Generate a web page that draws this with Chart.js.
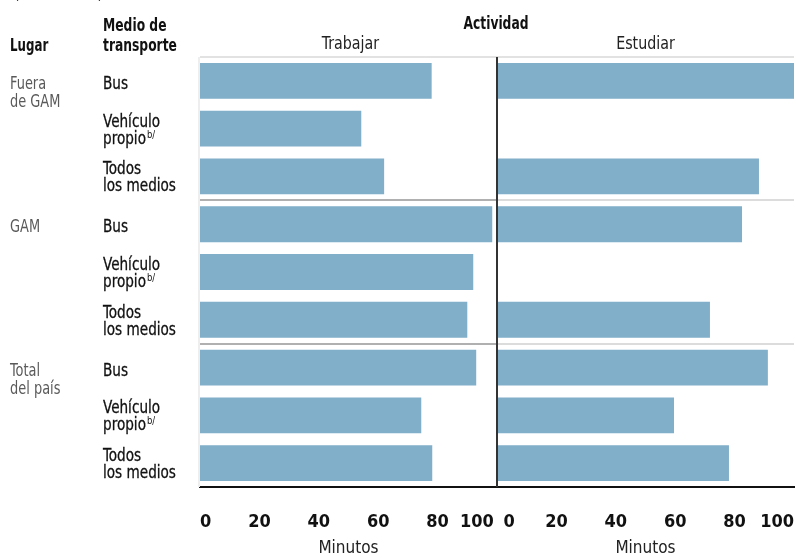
<!DOCTYPE html>
<html lang="es">
<head>
<meta charset="utf-8">
<title>Tiempo de viaje por actividad</title>
<script src="https://cdn.jsdelivr.net/npm/chart.js@4.4.1/dist/chart.umd.min.js"></script>
<style>
  html, body { margin: 0; padding: 0; background: #fff; }
  #chart { display: block; }
</style>
</head>
<body>
<canvas id="chart" width="796" height="559"></canvas>
<script>
// Datos del grafico
const lugares = [['Fuera', 'de GAM'], ['GAM'], ['Total', 'del país']];
const medios = [['Bus'], ['Vehículo', 'propio'], ['Todos', 'los medios']];
const actividades = ['Trabajar', 'Estudiar'];
const trabajar = [78, 54.3, 62, 98.4, 92, 90, 93, 74.5, 78.2];
const estudiar = [100, null, 88.2, 82.5, null, 71.7, 91.2, 59.6, 78.1];
const ticksMinutos = [0, 20, 40, 60, 80, 100];

const categorias = lugares.flatMap(l => medios.map(m => l.join(' ') + ' - ' + m.join(' ')));

const FONT = "'DejaVu Sans Condensed', 'Liberation Sans Narrow', sans-serif";
const AZUL = '#81aec9';
Chart.defaults.font.family = FONT;

// Escala x para cada panel; el 100 del primero y el 0 del segundo
// se separan un poco para que no choquen en el divisor
function ejeMinutos(panel) {
  return {
    type: 'linear',
    position: 'bottom',
    stack: 'actividad',
    stackWeight: 1,
    min: 0,
    max: 100,
    afterBuildTicks: s => { s.ticks = ticksMinutos.map(v => ({ value: v })); },
    afterFit: s => { s.height = 72; s.paddingLeft = 0; s.paddingRight = 0; },
    grid: { display: false, drawTicks: false },
    border: { display: true, color: '#111', width: 2 },
    ticks: {
      align: 'inner',
      padding: 25,
      autoSkip: false,
      minRotation: 0,
      maxRotation: 0,
      color: '#111',
      font: { size: 18, weight: 'bold' },
      callback: v => {
        if (panel === 0 && v === 100) return v + '\u2009';
        if (panel === 1 && v === 0) return '\u2009\u2009' + v;
        return String(v);
      }
    },
    title: {
      display: true,
      text: 'Minutos',
      color: '#222',
      padding: 0,
      font: { size: 17 }
    }
  };
}

// texto algo comprimido para imitar la fuente condensada
function texto(ctx, t, x, y, font, color, align, sx, grosor) {
  ctx.save();
  ctx.font = font;
  ctx.fillStyle = color;
  ctx.textAlign = align || 'left';
  ctx.textBaseline = 'alphabetic';
  ctx.translate(x, y);
  ctx.scale(sx, 1);
  ctx.fillText(t, 0, 0);
  if (grosor) {
    ctx.strokeStyle = color;
    ctx.lineWidth = grosor;
    ctx.strokeText(t, 0, 0);
  }
  const w = ctx.measureText(t).width * sx;
  ctx.restore();
  return w;
}

// Lineas, encabezados y etiquetas de filas
const decoracion = {
  id: 'decoracion',
  beforeDatasetsDraw(chart) {
    const { ctx, chartArea: a, scales } = chart;
    const y = scales.y, x = scales.x;
    ctx.save();
    ctx.lineWidth = 2;
    ctx.strokeStyle = '#e2e2e2';
    ctx.beginPath();
    ctx.moveTo(a.left, a.top);
    ctx.lineTo(a.right, a.top);
    ctx.stroke();
    ctx.strokeStyle = '#eeeeee';
    ctx.beginPath();
    ctx.moveTo(a.left - 1, a.top);
    ctx.lineTo(a.left - 1, a.bottom);
    ctx.stroke();
    // separadores entre grupos
    [3, 6].forEach(i => {
      const yy = Math.round((y.getPixelForValue(i - 1) + y.getPixelForValue(i)) / 2);
      ctx.strokeStyle = '#b0b0b0';
      ctx.beginPath();
      ctx.moveTo(a.left, yy);
      ctx.lineTo(x.right, yy);
      ctx.stroke();
      ctx.strokeStyle = '#dcdcdc';
      ctx.beginPath();
      ctx.moveTo(x.right, yy);
      ctx.lineTo(a.right, yy);
      ctx.stroke();
    });
    ctx.restore();
  },
  afterDatasetsDraw(chart) {
    const { ctx, chartArea: a, scales } = chart;
    ctx.save();
    ctx.strokeStyle = '#333';
    ctx.lineWidth = 2;
    ctx.beginPath();
    ctx.moveTo(scales.x.right, a.top);
    ctx.lineTo(scales.x.right, a.bottom);
    ctx.stroke();
    ctx.restore();
  },
  afterDraw(chart) {
    const { ctx, scales } = chart;
    const y = scales.y, x = scales.x, x2 = scales.x2;
    const negrita = 'bold 18px ' + FONT;
    const normal = '18px ' + FONT;

    // titulo recortado arriba
    texto(ctx, '(en minutos)', 14, -1, normal, '#333', 'left', 0.86);

    // encabezados
    texto(ctx, 'Lugar', 10, 51, negrita, '#111', 'left', 0.73);
    texto(ctx, 'Medio de', 103, 31, negrita, '#111', 'left', 0.76);
    texto(ctx, 'transporte', 103, 51, negrita, '#111', 'left', 0.76);
    texto(ctx, 'Actividad', x.right - 1, 29, negrita, '#111', 'center', 0.76);
    texto(ctx, actividades[0], (x.left + x.right) / 2 + 2, 49, normal, '#222', 'center', 0.88);
    texto(ctx, actividades[1], (x2.left + x2.right) / 2, 49, normal, '#222', 'center', 0.88);

    // etiquetas de filas
    lugares.forEach((lineas, g) => {
      const c0 = y.getPixelForValue(g * 3);
      lineas.forEach((t, k) => texto(ctx, t, 10, c0 + 8 + k * 18, normal, '#5a5a5a', 'left', 0.8));

      medios.forEach((m, j) => {
        const c = y.getPixelForValue(g * 3 + j);
        m.forEach((t, k) => {
          const by = m.length === 1 ? c + 8 : c - 2 + k * 17;
          const w = texto(ctx, t, 103, by, normal, '#111', 'left', 0.84, 0.3);
          if (t === 'propio') {
            texto(ctx, 'b/', 103 + w + 1, by - 6, '11px ' + FONT, '#111', 'left', 0.85);
          }
        });
      });
    });
  }
};

new Chart(document.getElementById('chart'), {
  type: 'bar',
  data: {
    labels: categorias,
    datasets: [
      {
        label: actividades[0],
        data: trabajar,
        xAxisID: 'x',
        yAxisID: 'y',
        backgroundColor: AZUL,
        grouped: false,
        barPercentage: 0.75,
        categoryPercentage: 1
      },
      {
        label: actividades[1],
        data: estudiar,
        xAxisID: 'x2',
        yAxisID: 'y',
        backgroundColor: AZUL,
        grouped: false,
        barPercentage: 0.75,
        categoryPercentage: 1
      }
    ]
  },
  options: {
    indexAxis: 'y',
    responsive: false,
    animation: false,
    layout: { padding: { left: 200, right: 2, top: 57, bottom: 0 } },
    plugins: {
      legend: { display: false },
      tooltip: { enabled: false }
    },
    scales: {
      y: { type: 'category', display: false, offset: true },
      x: ejeMinutos(0),
      x2: ejeMinutos(1)
    }
  },
  plugins: [decoracion]
});
</script>
</body>
</html>
